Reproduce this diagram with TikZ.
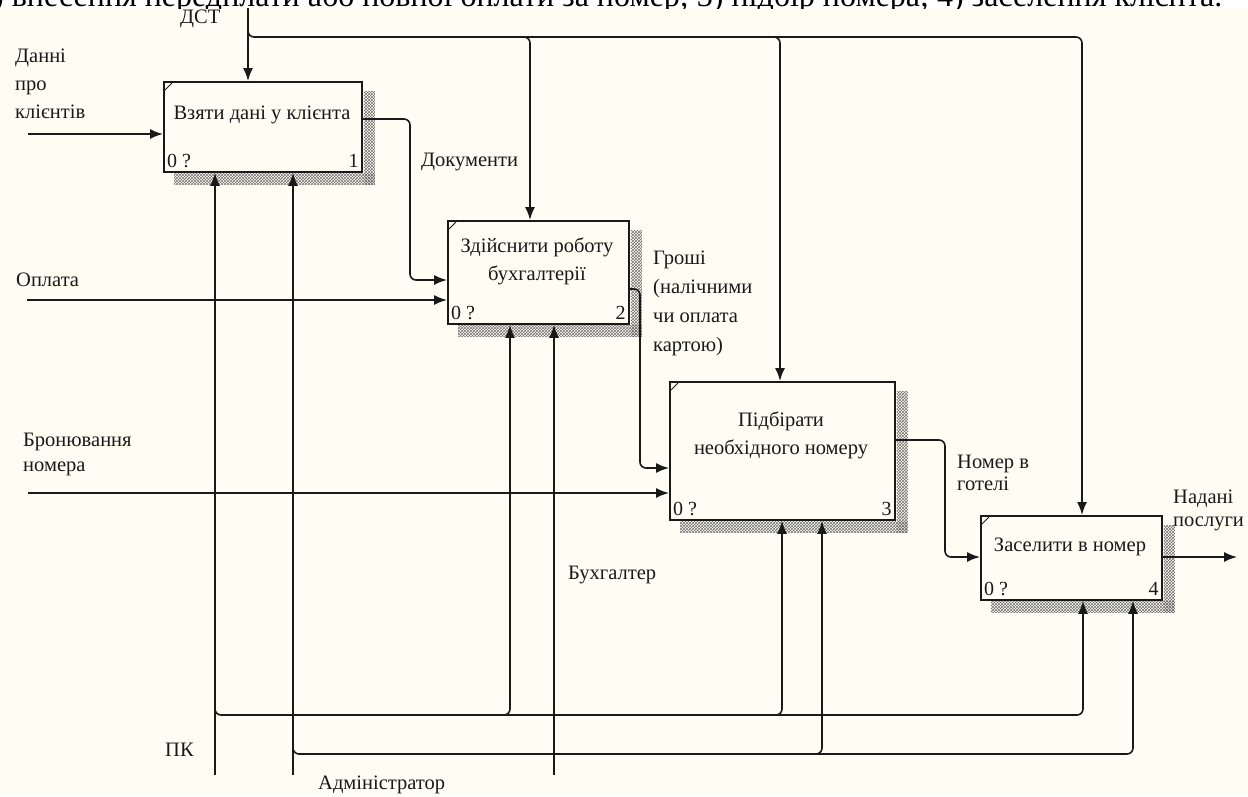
\documentclass[tikz,border=0pt]{standalone}
\usepackage{fontspec}
\setmainfont{Liberation Serif}
\usetikzlibrary{arrows.meta,patterns,calc}
\definecolor{cream}{RGB}{255,252,243}
\definecolor{ink}{RGB}{25,25,25}
\tikzset{
  box/.style={draw=ink, line width=1.8pt, fill=cream, inner sep=0pt, anchor=north west},
  hatch/.style={pattern=crosshatch, pattern color=black!55},
  conn/.style={draw=ink, line width=1.6pt, rounded corners=6pt},
  arr/.style={conn, -{Latex[length=13pt,width=10pt]}},
  lbl/.style={font=\fontsize{20.5}{27}\selectfont, inner sep=0pt, align=left, text=ink, anchor=north west},
  ttl/.style={font=\fontsize{20.5}{28}\selectfont, inner sep=0pt, align=center, text=ink},
  num/.style={font=\fontsize{20}{22}\selectfont, inner sep=0pt, text=ink},
  tick/.style={draw=ink, line width=0.8pt}
}
\newcommand\idefbox[5]{%
  \node[box, minimum width=#4pt, minimum height=#5pt] (#1) at (#2,#3) {};
  \fill[hatch] ($(#1.north east)+(1,10)$) rectangle ($(#1.south east)+(12,12)$);
  \fill[hatch] ($(#1.south west)+(11,1)$) rectangle ($(#1.south east)+(12,12)$);
  \draw[tick] ($(#1.north west)+(2,9)$) -- ($(#1.north west)+(9,2)$);
}
\begin{document}
\begin{tikzpicture}[x=1pt,y=-1pt]
\useasboundingbox (0,0) rectangle (1248,796);
\fill[white] (0,0) rectangle (1248,8);
\fill[cream] (0,8) rectangle (1248,796);
\begin{scope}
  \clip (0,0) rectangle (1248,8);
  \node[anchor=base west, inner sep=0pt, font=\fontsize{32}{33}\selectfont] (caption) at (-7,6) {) внесення передплати або повної оплати за номер; 3) підбір номера; 4) заселення клієнта.};
\end{scope}

% boxes
\idefbox{b1}{163}{81}{198}{90}
\idefbox{b2}{447}{220}{181}{103}
\idefbox{b3}{669}{381}{225}{138}
\idefbox{b4}{980}{515}{181}{84}

% titles
\node[ttl] (t1) at (262,115) {Взяти дані у клієнта};
\node[ttl] (t2) at (537,261) {Здійснити роботу\\бухгалтерії};
\node[ttl] (t3) at (781,435) {Підбірати\\необхідного номеру};
\node[ttl] (t4) at (1070,547) {Заселити в номер};
\foreach \b/\n in {b1/1,b2/2,b3/3,b4/4}{
  \node[num, anchor=west] (\b z) at ($(\b.south west)+(4,-12)$) {0 ?};
  \node[num, anchor=east] (\b n) at ($(\b.south east)+(-4,-12)$) {\n};
}

% free ends
\coordinate (inA) at (28,134);
\coordinate (inB) at (27,300);
\coordinate (inC) at (28,493);
\coordinate (ctl) at (248,8);
\coordinate (ctlfork) at (248,24);
\coordinate (ctlbus) at (1082,37);
\coordinate (pk) at (215,775);
\coordinate (pkfork) at (215,703);
\coordinate (pkbus) at (1083,715);
\coordinate (adm) at (293,775);
\coordinate (admfork) at (293,742);
\coordinate (admbus) at (1133,754);
\coordinate (buh) at (554,775);
\coordinate (outE) at (1237,557);

% inputs
\draw[arr] (inA) -- (inA -| b1.west);
\draw[arr] (inB) -- (inB -| b2.west);
\draw[arr] (inC) -- (inC -| b3.west);

% outputs
\draw[arr] (b1.east |- 0,119) -- (410,119) -- (410,280) -- (b2.west |- 0,280);
\draw[arr] (b2.east |- 0,289) -- (640,289) -- (640,468) -- (b3.west |- 0,468);
\draw[arr] (b3.east |- 0,440) -- (945,440) -- (945,557) -- (b4.west |- 0,557);
\draw[arr] (b4.east |- outE) -- (outE);

% controls
\draw[arr] (ctl) -- (ctl |- b1.north);
\draw[arr] (ctlfork) -- (ctlfork |- ctlbus) -- (ctlbus) -- (ctlbus |- b4.north);
\draw[arr] (520,37) -- (530,37) -- (530,0 |- b2.north);
\draw[arr] (770,37) -- (780,37) -- (780,0 |- b3.north);

% mechanisms
\draw[arr] (pk) -- (pk |- b1.south);
\draw[arr] (pkfork) -- (pkfork |- pkbus) -- (pkbus) -- (pkbus |- b4.south);
\draw[arr] (500,715) -- (510,715) -- (510,0 |- b2.south);
\draw[arr] (772,715) -- (782,715) -- (782,0 |- b3.south);
\draw[arr] (adm) -- (adm |- b1.south);
\draw[arr] (admfork) -- (admfork |- admbus) -- (admbus) -- (admbus |- b4.south);
\draw[arr] (812,754) -- (822,754) -- (822,0 |- b3.south);
\draw[arr] (buh) -- (buh |- b2.south);

% labels
\node[lbl, font=\fontsize{20.5}{28}\selectfont] (lA) at (15,49) {Данні\\про\\клієнтів};
\node[lbl] (lB) at (16,273) {Оплата};
\node[lbl, font=\fontsize{20.5}{25}\selectfont] (lC) at (23,433) {Бронювання\\номера};
\node[lbl] (lD) at (180,10) {ДСТ};
\node[lbl] (lE) at (421,153) {Документи};
\node[lbl, font=\fontsize{20.5}{29}\selectfont] (lF) at (653,251) {Гроші\\(налічними\\чи оплата\\картою)};
\node[lbl, font=\fontsize{20.5}{22}\selectfont] (lG) at (957,455) {Номер в\\готелі};
\node[lbl, font=\fontsize{20.5}{23}\selectfont] (lH) at (1173,490) {Надані\\послуги};
\node[lbl] (lI) at (165,743) {ПК};
\node[lbl] (lJ) at (318,776) {Адміністратор};
\node[lbl] (lK) at (568,566) {Бухгалтер};
\end{tikzpicture}
\end{document}
